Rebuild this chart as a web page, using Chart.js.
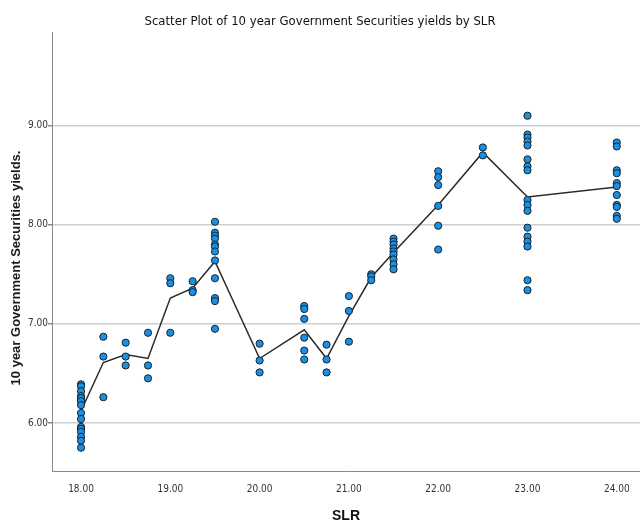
<!DOCTYPE html>
<html>
<head>
<meta charset="utf-8">
<script src="https://cdn.jsdelivr.net/npm/chart.js@4.4.1/dist/chart.umd.min.js"></script>
<style>
  html, body { margin: 0; padding: 0; background: #ffffff; }
  #wrap { width: 640px; height: 525px; position: relative; }
</style>
</head>
<body>
<div id="wrap"><canvas id="scatter"></canvas></div>
<script>
// SLR levels (x) and the 10 year G-Sec yields observed at each level (y)
const SLR_LEVELS = [18, 18.25, 18.5, 18.75, 19, 19.25, 19.5, 20, 20.5, 20.75, 21, 21.25, 21.5, 22, 22.5, 23, 24];
const YIELDS = [
  [6.39, 6.37, 6.32, 6.27, 6.25, 6.22, 6.18, 6.10, 6.04, 5.96, 5.94, 5.91, 5.86, 5.82, 5.75],
  [6.87, 6.67, 6.26],
  [6.81, 6.67, 6.58],
  [6.91, 6.58, 6.45],
  [7.46, 7.41, 6.91],
  [7.43, 7.34, 7.32],
  [8.03, 7.92, 7.89, 7.86, 7.80, 7.78, 7.73, 7.64, 7.46, 7.26, 7.23, 6.95],
  [6.80, 6.63, 6.51],
  [7.18, 7.15, 7.05, 6.86, 6.73, 6.64],
  [6.79, 6.64, 6.51],
  [7.28, 7.13, 6.82],
  [7.50, 7.48, 7.44],
  [7.86, 7.83, 7.80, 7.76, 7.73, 7.70, 7.65, 7.60, 7.55],
  [8.54, 8.48, 8.40, 8.19, 7.99, 7.75],
  [8.78, 8.70],
  [9.10, 8.91, 8.88, 8.84, 8.80, 8.66, 8.59, 8.55, 8.25, 8.20, 8.14, 7.97, 7.88, 7.83, 7.78, 7.44, 7.34],
  [8.83, 8.79, 8.55, 8.52, 8.42, 8.39, 8.30, 8.20, 8.18, 8.09, 8.06]
];
// fit line through the group means
const FIT_LINE = [6.12, 6.61, 6.69, 6.65, 7.26, 7.36, 7.63, 6.65, 6.94, 6.65, 7.08, 7.47, 7.72, 8.20, 8.73, 8.28, 8.38];
const X_TICKS = [18, 19, 20, 21, 22, 23, 24];
const Y_TICKS = [6, 7, 8, 9];
const Y_TITLE = '10 year Government Securities yields.';

(function () {
  'use strict';

  const NARROW = "'Liberation Sans Narrow', 'Arial Narrow', 'DejaVu Sans Condensed', 'Liberation Sans', sans-serif";
  const SANS = "'Liberation Sans', Arial, sans-serif";

  const points = [];
  SLR_LEVELS.forEach(function (x, i) {
    YIELDS[i].forEach(function (y) { points.push({ x: x, y: y }); });
  });
  const fit = SLR_LEVELS.map(function (x, i) { return { x: x, y: FIT_LINE[i] }; });

  function fixTicks(values) {
    return function (scale) {
      scale.ticks = values.map(function (v) { return { value: v }; });
    };
  }

  // SPSS puts the y title a little below the middle of the axis, so draw it by hand
  const yTitlePlugin = {
    id: 'yTitle',
    afterDraw: function (chart) {
      const ctx = chart.ctx;
      ctx.save();
      ctx.translate(16, 268);
      ctx.rotate(-Math.PI / 2);
      ctx.font = 'bold 13px ' + SANS;
      ctx.fillStyle = '#1a1a1a';
      ctx.textAlign = 'center';
      ctx.textBaseline = 'middle';
      ctx.fillText(Y_TITLE, 0, 0);
      ctx.restore();
    }
  };

  new Chart(document.getElementById('scatter'), {
    type: 'scatter',
    data: {
      datasets: [
        {
          type: 'line',
          data: fit,
          borderColor: '#2b2b2b',
          borderWidth: 1.5,
          pointRadius: 0,
          fill: false,
          tension: 0,
          order: 2
        },
        {
          data: points,
          backgroundColor: '#1b8fe0',
          borderColor: '#16232f',
          borderWidth: 1,
          pointRadius: 3.6,
          order: 1
        }
      ]
    },
    plugins: [yTitlePlugin],
    options: {
      responsive: true,
      maintainAspectRatio: false,
      animation: false,
      layout: { padding: 0, autoPadding: false },
      plugins: {
        legend: { display: false },
        tooltip: { enabled: false },
        title: {
          display: true,
          text: 'Scatter Plot of 10 year Government Securities yields by SLR',
          color: '#111111',
          font: { family: NARROW, size: 13, weight: 'normal' },
          padding: { top: 14, bottom: 3 }
        }
      },
      scales: {
        x: {
          type: 'linear',
          min: 17.675,
          max: 24.26,
          afterBuildTicks: fixTicks(X_TICKS),
          afterFit: function (s) { s.height = 54; s.paddingRight = 0; s.paddingLeft = 0; },
          grid: { display: false },
          border: { display: true, color: '#8a8a8a', width: 1 },
          ticks: {
            color: '#333333',
            font: { family: NARROW, size: 10 },
            padding: 4,
            maxRotation: 0,
            callback: function (v) { return Number(v).toFixed(2); }
          },
          title: {
            display: true,
            text: 'SLR',
            color: '#111111',
            font: { family: SANS, size: 14, weight: 'bold' },
            padding: { top: 0, bottom: 0 }
          }
        },
        y: {
          type: 'linear',
          min: 5.515,
          max: 9.939,
          afterBuildTicks: fixTicks(Y_TICKS),
          afterFit: function (s) { s.width = 52; s.paddingTop = 0; s.paddingBottom = 0; },
          grid: { color: '#cfcfcf', lineWidth: 1.5, tickColor: '#8a8a8a', tickLength: 4 },
          border: { display: true, color: '#8a8a8a', width: 1 },
          ticks: {
            color: '#333333',
            font: { family: NARROW, size: 10 },
            padding: 0,
            callback: function (v) { return Number(v).toFixed(2); }
          },
          title: { display: false }
        }
      }
    }
  });
})();
</script>
</body>
</html>
